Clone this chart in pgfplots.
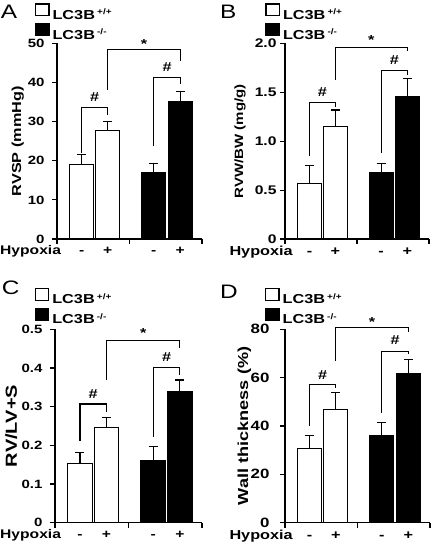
\documentclass[border=0pt]{standalone}
\usepackage{fontspec}
\setmainfont{Liberation Sans}
\usepackage{graphicx}
\usepackage{pgfplots}
\pgfplotsset{compat=1.18}
\newcommand{\hs}[1]{\scalebox{1.25}[1]{#1}}
\tikzset{
  hash/.style={font=\bfseries\fontsize{13}{13}\selectfont, inner sep=0pt},
  star/.style={font=\bfseries\fontsize{13}{13}\selectfont, inner sep=0pt, yshift=-2.5pt},
  letter/.style={anchor=base west, inner sep=0pt, font=\fontsize{19.5}{20}\selectfont},
}
\pgfplotsset{
  panel/.style={
    scale only axis,
    axis lines=left, axis line style={-, line width=1.1pt},
    xmin=0, xmax=2, ymin=0, clip=false,
    xtick={0,1,2}, xticklabels={},
    tick align=outside, major tick length=5pt,
    tick style={line width=1.1pt, black},
    yticklabel style={inner ysep=0pt},
    ylabel style={anchor=base},
    legend style={draw=none, fill=none, inner sep=0pt, outer sep=0pt,
      row sep=3.3pt, column sep=3pt,
      nodes={inner sep=0pt, text height=10pt, text depth=1pt,
             font=\bfseries\fontsize{13}{13}\selectfont}},
    legend cell align=left,
  },
  wbar/.style={ybar, bar width=0.33, bar shift=0pt, fill=white, draw=black, line width=1.1pt,
    legend image code/.code={\draw[##1,/tikz/.cd,line width=1.1pt] (0pt,-1pt) rectangle (13.5pt,10.7pt);},
    error bars/y dir=plus, error bars/y explicit,
    error bars/error bar style={line width=1.1pt, black},
    error bars/error mark options={rotate=90, black, line width=1.1pt, mark size=4.5pt}},
  kbar/.style={wbar, fill=black},
  brk/.style={forget plot, black, line width=1.1pt, mark=none, sharp plot},
}
\newcommand{\wt}{\hs{LC3B}\,\raisebox{4.7pt}{\bfseries\fontsize{8}{8}\selectfont\hs{+/+}}}
\newcommand{\ko}{\hs{LC3B}\,\raisebox{4.7pt}{\bfseries\fontsize{8}{8}\selectfont\hs{-/-}}}
\begin{document}
\begin{tikzpicture}
\useasboundingbox (0pt,0pt) rectangle (434pt,546pt);
% ---------------- A
\begin{axis}[panel, at={(57pt,307pt)}, anchor=south west, width=145pt, height=195.5pt, ymax=50,
  ytick={0,10,20,30,40,50}, yticklabels={\hs{0},\hs{10},\hs{20},\hs{30},\hs{40},\hs{50}},
  yticklabel style={font=\bfseries\fontsize{12}{14}\selectfont, xshift=-4pt},
  ylabel={\hs{RVSP (mmHg)}},
  ylabel style={at={(axis description cs:-0.248,0.5)}, font=\bfseries\fontsize{13}{14}\selectfont},
  legend style={at={(axis description cs:-0.152,1.205)}, anchor=north west}]
\addplot[wbar] coordinates {(0.34,19.0) +- (0,2.7) (0.70,27.7) +- (0,2.4)};
\addlegendentry{\wt}
\addplot[kbar] coordinates {(1.335,16.9) +- (0,2.5) (1.70,35.2) +- (0,2.5)};
\addlegendentry{\ko}
\addplot[brk] coordinates {(0.34,22.1) (0.34,33.7) (0.70,33.7) (0.70,31.7)};
\addplot[brk] coordinates {(0.70,38.1) (0.70,48.5) (1.70,48.5) (1.70,45.5)};
\addplot[brk] coordinates {(1.335,23.7) (1.335,41.4) (1.70,41.4) (1.70,39.7)};
\node[hash] at (axis cs:0.52,36.3) {\hs{\#}};
\node[hash] at (axis cs:1.52,43.9) {\hs{\#}};
\node[star] at (axis cs:1.20,50.4) {\hs{*}};
\begin{scope}[font=\bfseries\fontsize{12.5}{14}\selectfont]
\node[anchor=base west, inner sep=0pt] at ([xshift=-57pt,yshift=-15.5pt]axis cs:0,0) {\hs{Hypoxia}};
\node[anchor=base, inner sep=0pt] at ([yshift=-15.5pt]axis cs:0.34,0) {\hs{-}};
\node[anchor=base, inner sep=0pt] at ([yshift=-15.5pt]axis cs:0.70,0) {\hs{+}};
\node[anchor=base, inner sep=0pt] at ([yshift=-15.5pt]axis cs:1.335,0) {\hs{-}};
\node[anchor=base, inner sep=0pt] at ([yshift=-15.5pt]axis cs:1.70,0) {\hs{+}};
\end{scope}
\end{axis}
% ---------------- B
\begin{axis}[panel, at={(285pt,307pt)}, anchor=south west, width=144pt, height=195.5pt, ymax=2,
  ytick={0,0.5,1,1.5,2}, yticklabels={\hs{0},\hs{0.5},\hs{1.0},\hs{1.5},\hs{2.0}},
  yticklabel style={font=\bfseries\fontsize{12.5}{14}\selectfont},
  ylabel={\hs{RVW/BW (mg/g)}},
  ylabel style={at={(axis description cs:-0.29,0.5)}, font=\bfseries\fontsize{12}{14}\selectfont},
  legend style={at={(axis description cs:-0.136,1.205)}, anchor=north west}]
\addplot[wbar] coordinates {(0.34,0.57) +- (0,0.18) (0.70,1.15) +- (0,0.17)};
\addlegendentry{\wt}
\addplot[kbar] coordinates {(1.335,0.68) +- (0,0.095) (1.70,1.46) +- (0,0.185)};
\addlegendentry{\ko}
\addplot[brk] coordinates {(0.34,0.849) (0.34,1.396) (0.70,1.396) (0.70,1.352)};
\addplot[brk] coordinates {(0.70,1.625) (0.70,1.96) (1.70,1.96) (1.70,1.92)};
\addplot[brk] coordinates {(1.335,0.883) (1.335,1.72) (1.70,1.72) (1.70,1.675)};
\node[hash] at (axis cs:0.52,1.5) {\hs{\#}};
\node[hash] at (axis cs:1.52,1.83) {\hs{\#}};
\node[star] at (axis cs:1.20,2.06) {\hs{*}};
\begin{scope}[font=\bfseries\fontsize{13}{15}\selectfont]
\node[anchor=base west, inner sep=0pt] at ([xshift=-55.7pt,yshift=-16.8pt]axis cs:0,0) {\hs{Hypoxia}};
\node[anchor=base, inner sep=0pt] at ([yshift=-16.8pt]axis cs:0.34,0) {\hs{-}};
\node[anchor=base, inner sep=0pt] at ([yshift=-16.8pt]axis cs:0.70,0) {\hs{+}};
\node[anchor=base, inner sep=0pt] at ([yshift=-16.8pt]axis cs:1.335,0) {\hs{-}};
\node[anchor=base, inner sep=0pt] at ([yshift=-16.8pt]axis cs:1.70,0) {\hs{+}};
\end{scope}
\end{axis}
% ---------------- C
\begin{axis}[panel, at={(55pt,23.3pt)}, anchor=south west, width=147pt, height=193.4pt, ymax=0.5,
  ytick={0,0.1,0.2,0.3,0.4,0.5}, yticklabels={\hs{0},\hs{0.1},\hs{0.2},\hs{0.3},\hs{0.4},\hs{0.5}},
  yticklabel style={font=\bfseries\fontsize{12}{14}\selectfont, xshift=-4pt},
  ylabel={\hs{RV/LV+S}},
  ylabel style={at={(axis description cs:-0.26,0.5)}, font=\bfseries\fontsize{16}{18}\selectfont},
  legend style={at={(axis description cs:-0.138,1.2135)}, anchor=north west}]
\addplot[wbar] coordinates {(0.34,0.152) +- (0,0.030) (0.70,0.245) +- (0,0.027)};
\addlegendentry{\wt}
\addplot[kbar] coordinates {(1.335,0.160) +- (0,0.036) (1.70,0.340) +- (0,0.029)};
\addlegendentry{\ko}
\addplot[brk] coordinates {(0.34,0.212) (0.34,0.307) (0.70,0.307) (0.70,0.287)};
\addplot[brk] coordinates {(0.70,0.369) (0.70,0.472) (1.70,0.472) (1.70,0.451)};
\addplot[brk] coordinates {(1.335,0.222) (1.335,0.402) (1.70,0.402) (1.70,0.382)};
\node[hash] at (axis cs:0.52,0.333) {\hs{\#}};
\node[hash] at (axis cs:1.52,0.428) {\hs{\#}};
\node[star] at (axis cs:1.20,0.498) {\hs{*}};
\begin{scope}[font=\bfseries\fontsize{12.5}{14}\selectfont]
\node[anchor=base west, inner sep=0pt] at ([xshift=-55pt,yshift=-15.5pt]axis cs:0,0) {\hs{Hypoxia}};
\node[anchor=base, inner sep=0pt] at ([yshift=-15.5pt]axis cs:0.34,0) {\hs{-}};
\node[anchor=base, inner sep=0pt] at ([yshift=-15.5pt]axis cs:0.70,0) {\hs{+}};
\node[anchor=base, inner sep=0pt] at ([yshift=-15.5pt]axis cs:1.335,0) {\hs{-}};
\node[anchor=base, inner sep=0pt] at ([yshift=-15.5pt]axis cs:1.70,0) {\hs{+}};
\end{scope}
\end{axis}
% ---------------- D
\begin{axis}[panel, at={(285pt,23.3pt)}, anchor=south west, width=145pt, height=193.4pt, ymax=80,
  ytick={0,20,40,60,80}, yticklabels={\hs{0},\hs{20},\hs{40},\hs{60},\hs{80}},
  yticklabel style={font=\bfseries\fontsize{13.5}{15}\selectfont, xshift=-7pt},
  ylabel={\hs{Wall thickness (\%)}},
  ylabel style={at={(axis description cs:-0.255,0.5)}, font=\bfseries\fontsize{14.5}{16}\selectfont},
  legend style={at={(axis description cs:-0.138,1.2135)}, anchor=north west}]
\addplot[wbar] coordinates {(0.34,30.8) +- (0,5.2) (0.70,46.8) +- (0,7.0)};
\addlegendentry{\wt}
\addplot[kbar] coordinates {(1.335,36.0) +- (0,5.4) (1.70,61.9) +- (0,5.7)};
\addlegendentry{\ko}
\addplot[brk] coordinates {(0.34,40) (0.34,57) (0.70,57) (0.70,55.6)};
\addplot[brk] coordinates {(0.70,67) (0.70,80.8) (1.70,80.8) (1.70,79)};
\addplot[brk] coordinates {(1.335,45.5) (1.335,71) (1.70,71) (1.70,69.7)};
\node[hash] at (axis cs:0.52,61) {\hs{\#}};
\node[hash] at (axis cs:1.52,75.5) {\hs{\#}};
\node[star] at (axis cs:1.20,84) {\hs{*}};
\begin{scope}[font=\bfseries\fontsize{13}{15}\selectfont]
\node[anchor=base west, inner sep=0pt] at ([xshift=-55.7pt,yshift=-16.8pt]axis cs:0,0) {\hs{Hypoxia}};
\node[anchor=base, inner sep=0pt] at ([yshift=-16.8pt]axis cs:0.34,0) {\hs{-}};
\node[anchor=base, inner sep=0pt] at ([yshift=-16.8pt]axis cs:0.70,0) {\hs{+}};
\node[anchor=base, inner sep=0pt] at ([yshift=-16.8pt]axis cs:1.335,0) {\hs{-}};
\node[anchor=base, inner sep=0pt] at ([yshift=-16.8pt]axis cs:1.70,0) {\hs{+}};
\end{scope}
\end{axis}
% panel letters
\node[letter] at (0.7pt,527pt) {\hs{A}};
\node[letter] at (220pt,527pt) {\hs{B}};
\node[letter] at (1.7pt,251pt) {\hs{C}};
\node[letter] at (220pt,247pt) {\hs{D}};
\end{tikzpicture}
\end{document}
